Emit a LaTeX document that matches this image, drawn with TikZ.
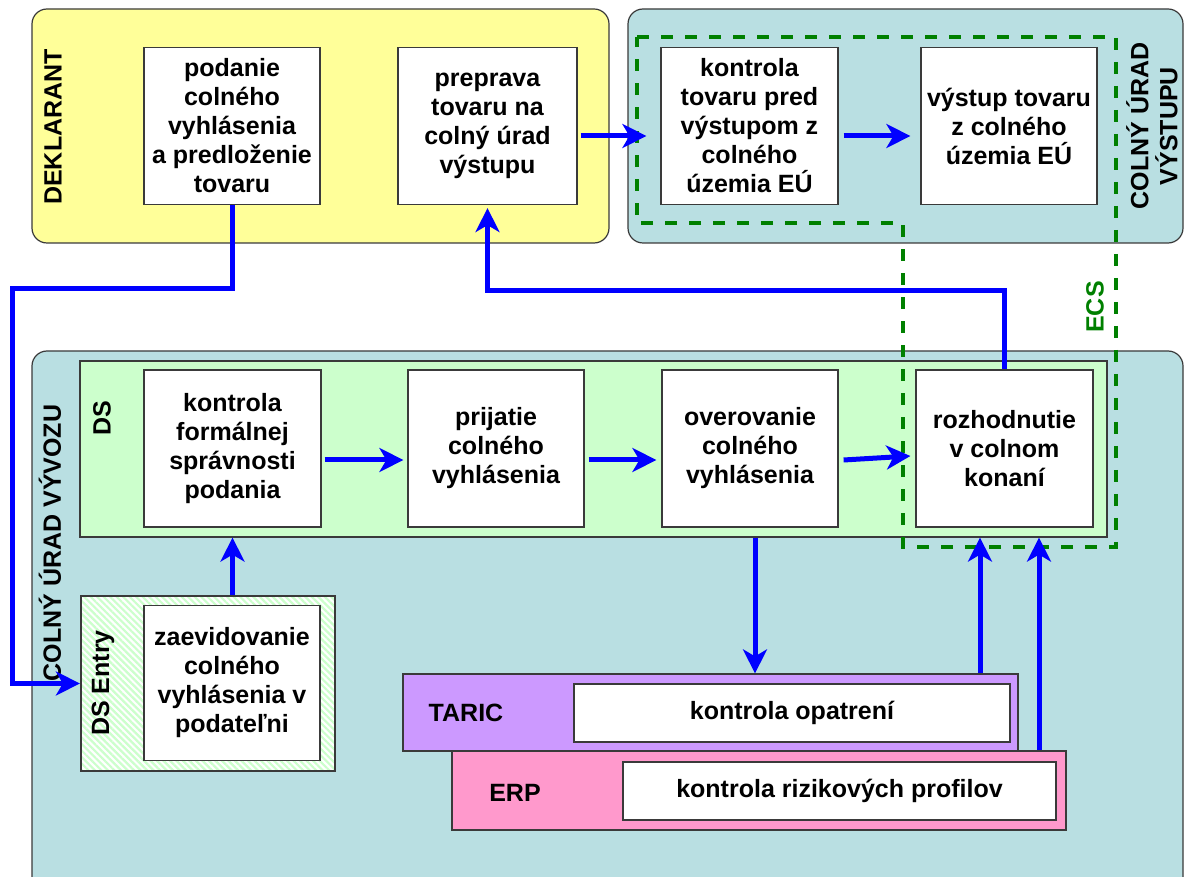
\documentclass[tikz,border=0pt]{standalone}
\usepackage{fontspec}
\setmainfont{Liberation Sans}
\usetikzlibrary{arrows.meta,patterns.meta}
\definecolor{declyellow}{HTML}{FFFF99}
\definecolor{officeteal}{HTML}{B9DFE2}
\definecolor{dsgreen}{HTML}{CCFFCC}
\definecolor{taricviolet}{HTML}{CC99FF}
\definecolor{erppink}{HTML}{FF99CC}
\definecolor{ecsgreen}{HTML}{008000}
\definecolor{flowblue}{HTML}{0000FF}
\definecolor{framegray}{HTML}{3A3A3A}
\begin{document}
\begin{tikzpicture}[x=0.5pt,y=-0.5pt,
  font=\fontsize{12.5}{14.5}\selectfont\bfseries,
  region/.style={draw=framegray, line width=0.6pt, rounded corners=7.5pt},
  panel/.style={draw=framegray, line width=0.6pt, inner sep=0pt},
  stepbox/.style={draw=framegray, line width=0.6pt, fill=white, align=center,
    inner sep=2pt, minimum height=78.5pt},
  sidelabel/.style={rotate=90, align=center, inner sep=0pt},
  flow/.style={draw=flowblue, line width=2.5pt,
    -{Stealth[length=12pt,width=12pt,inset=3.5pt]}},
  ecs/.style={draw=ecsgreen, line width=2pt, dash pattern=on 6pt off 6pt}
]
\useasboundingbox (0,0) rectangle (1185,877);

% organisational regions
\draw[region, fill=declyellow] (32,9) rectangle (609,243);
\draw[region, fill=officeteal] (628,9) rectangle (1183,243);
\draw[region, fill=officeteal] (32,351) rectangle (1183,930);

% DS system and its entry module
\node[panel, fill=dsgreen, minimum width=513.5pt, minimum height=88pt] (ds) at (593.5,449) {};
\node[panel, preaction={fill=white}, pattern={Lines[angle=-45,distance=2.3pt,line width=1.1pt]},
  pattern color=dsgreen, minimum width=127pt, minimum height=87.5pt] (dsentry) at (208,683.5) {};

% TARIC and ERP panels
\node[panel, fill=taricviolet, minimum width=307.5pt, minimum height=38.5pt] (taric) at (710.5,712.5) {};
\node[panel, fill=white, minimum width=218pt, minimum height=29pt] (taricchk) at (792,713) {kontrola opatrení};
\node[panel, fill=erppink, minimum width=307pt, minimum height=39.5pt] (erp) at (759,790.5) {};
\node[panel, fill=white, minimum width=216.5pt, minimum height=29pt] (erpchk) at (839.5,791) {kontrola rizikových profilov};
\node (tariclabel) at (466,713) {TARIC};
\node (erplabel) at (515,793) {ERP};

% region labels
\node[sidelabel] (deklarant) at (53,127) {DEKLARANT};
\node[sidelabel] (vystupu) at (1152,126) {COLNÝ ÚRAD\\VÝSTUPU};
\node[sidelabel] (vyvozu) at (50,543) {COLNÝ ÚRAD VÝVOZU};
\node[sidelabel] (dslabel) at (102,418) {DS};
\node[sidelabel] (dsentrylabel) at (103,683) {DS Entry};
\node[sidelabel, text=ecsgreen] (ecslabel) at (1095,307) {ECS};

% process steps
\node[stepbox, minimum width=88pt] (podanie) at (232,126)
  {podanie\\colného\\vyhlásenia\\a predloženie\\tovaru};
\node[stepbox, minimum width=89.5pt] (preprava) at (487.5,126)
  {preprava\\tovaru na\\colný úrad\\výstupu};
\node[stepbox, minimum width=88.5pt] (kontrolavyst) at (749.5,126)
  {kontrola\\tovaru pred\\výstupom z\\colného\\územia EÚ};
\node[stepbox, minimum width=88pt] (vystup) at (1009,126)
  {výstup tovaru\\z colného\\územia EÚ};
\node[stepbox, minimum width=88.5pt] (formal) at (232.5,448.5)
  {kontrola\\formálnej\\správnosti\\podania};
\node[stepbox, minimum width=88pt] (prijatie) at (496,448.5)
  {prijatie\\colného\\vyhlásenia};
\node[stepbox, minimum width=88pt] (overovanie) at (750,448.5)
  {overovanie\\colného\\vyhlásenia};
\node[stepbox, minimum width=88.5pt] (rozhodnutie) at (1004.5,448.5)
  {rozhodnutie\\v colnom\\konaní};
\node[stepbox, minimum width=88pt, minimum height=77.5pt] (zaevid) at (232,683)
  {zaevidovanie\\colného\\vyhlásenia v\\podateľni};

% ECS boundary
\draw[ecs] (637,37) -- (1116,37) -- (1116,547) -- (903,547) -- (903,223) -- (637,223) -- cycle;

% flows
\draw[flow] (podanie.south) |- (12,289) |- (dsentry.west);
\draw[flow] ([shift={(3,10)}]preprava.east) -- ([shift={(-14,10)}]kontrolavyst.west);
\draw[flow] ([shift={(5,10)}]kontrolavyst.east) -- ([shift={(-10,10)}]vystup.west);
\draw[flow] (rozhodnutie.north) |- ([shift={(0,85)}]preprava.south) -- ([shift={(0,3)}]preprava.south);
\draw[flow] ([shift={(3,11.5)}]formal.east) -- ([shift={(-4,11.5)}]prijatie.west);
\draw[flow] ([shift={(4,11.5)}]prijatie.east) -- ([shift={(-5,11.5)}]overovanie.west);
\draw[flow] ([shift={(5,11.5)}]overovanie.east) -- ([shift={(-5,7.5)}]rozhodnutie.west);
\draw[flow] (formal.south |- dsentry.north) -- (formal.south |- ds.south);
\draw[flow] (ds.south -| 755,0) -- (taric.north -| 755,0);
\draw[flow] (taric.north -| 980,0) -- (ds.south -| 980,0);
\draw[flow] (erp.north -| 1039,0) -- (ds.south -| 1039,0);
\end{tikzpicture}
\end{document}
